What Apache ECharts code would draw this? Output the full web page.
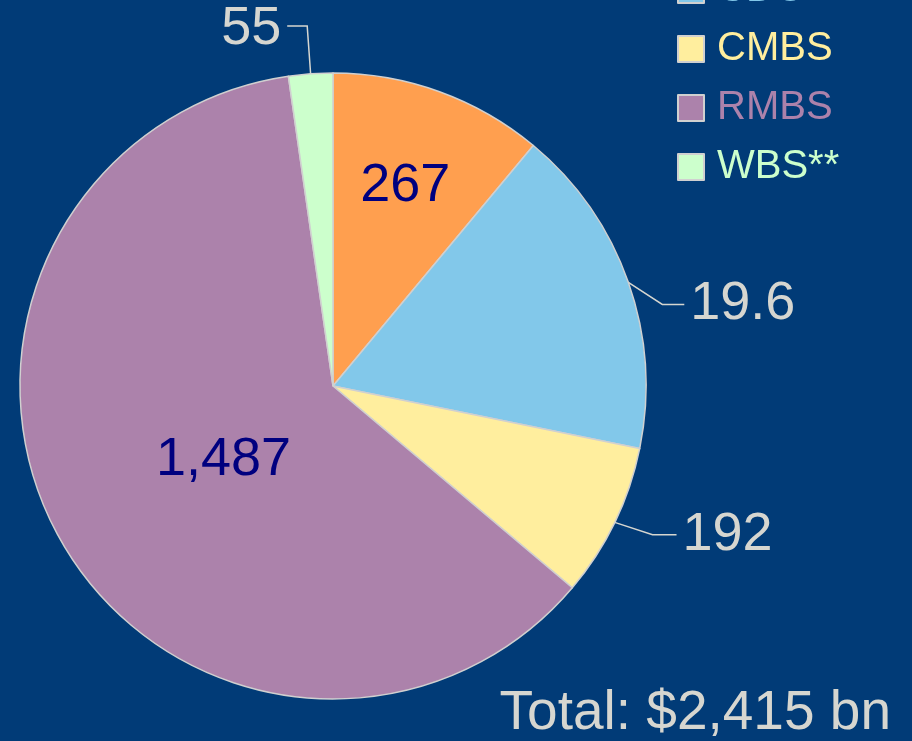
<!DOCTYPE html>
<html>
<head>
<meta charset="utf-8">
<script src="https://cdn.jsdelivr.net/npm/echarts@6/dist/echarts.min.js"></script>
<style>
  html, body { margin: 0; padding: 0; background: #013b77; }
  #pie { width: 912px; height: 741px; }
</style>
</head>
<body>
<div id="pie"></div>
<script>
// 数据
var categories = ["ABS", "CDO", "CMBS", "RMBS", "WBS**"];
var values = [267, 414, 192, 1487, 55];
var labelTexts = ["267", "19.6", "192", "1,487", "55"];
var colors = ["#ff9f4f", "#82c8ea", "#ffee9e", "#ac82ab", "#ccffcc"];
var totalText = "Total: $2,415 bn";

var insideIdx = [0, 3]; // 标签在扇区内部

var chart = echarts.init(document.getElementById("pie"));

var pieData = categories.map(function (name, i) {
  var inside = insideIdx.indexOf(i) >= 0;
  var item = {
    name: name,
    value: values[i],
    itemStyle: { color: colors[i] },
    label: {
      position: inside ? "inside" : "outside",
      color: inside ? "#00007f" : "#d6d6d0"
    }
  };
  if (i === 1) item.labelLine = { length: 36, length2: 22 };
  if (i === 2) item.labelLine = { length: 42, length2: 24 };
  if (i === 4) item.labelLine = { length: 48, length2: 20 };
  return item;
});

// 引导线整体下移（保留第一个点）
function shiftLine(p, d) {
  var pts = p.labelLinePoints;
  if (!pts) return { dy: d };
  return {
    dy: d,
    labelLinePoints: [
      pts[0],
      [pts[1][0], pts[1][1] + d],
      [pts[2][0], pts[2][1] + d]
    ]
  };
}

chart.setOption({
  backgroundColor: "#013b77",
  animation: false,
  title: {
    text: totalText,
    right: 16,
    top: 681,
    textStyle: {
      color: "#d6d6d0",
      fontSize: 55,
      fontWeight: "normal",
      fontFamily: "Liberation Sans"
    }
  },
  legend: {
    orient: "vertical",
    left: 677,
    top: -89,
    padding: 0,
    icon: "rect",
    itemWidth: 26,
    itemHeight: 26,
    itemGap: 19,
    itemStyle: { borderColor: "#d0d0d0", borderWidth: 2 },
    textStyle: {
      fontSize: 40,
      lineHeight: 40,
      fontFamily: "Liberation Sans",
      padding: [0, 0, 0, 8]
    },
    data: categories.map(function (name, i) {
      return { name: name, textStyle: { color: colors[i] } };
    })
  },
  series: [
    {
      type: "pie",
      center: [333, 386],
      radius: 313,
      startAngle: 90,
      clockwise: true,
      avoidLabelOverlap: false,
      data: pieData,
      itemStyle: { borderColor: "#d0d0d0", borderWidth: 1.5 },
      label: {
        fontSize: 54,
        fontFamily: "Liberation Sans",
        distanceToLabelLine: 6,
        formatter: function (p) {
          return labelTexts[p.dataIndex];
        }
      },
      labelLine: {
        length: 30,
        length2: 22,
        lineStyle: { color: "#d6d6d0", width: 1.5 }
      },
      labelLayout: function (p) {
        if (p.dataIndex === 0) return { dx: 18, dy: -50 };
        if (p.dataIndex === 1) return shiftLine(p, 34);
        if (p.dataIndex === 2) return shiftLine(p, -6);
        if (p.dataIndex === 3) return { dx: 30, dy: -3 };
        if (p.dataIndex === 4) return { dy: 3 };
      }
    }
  ]
});

window.addEventListener("resize", function () {
  chart.resize();
});
</script>
</body>
</html>
